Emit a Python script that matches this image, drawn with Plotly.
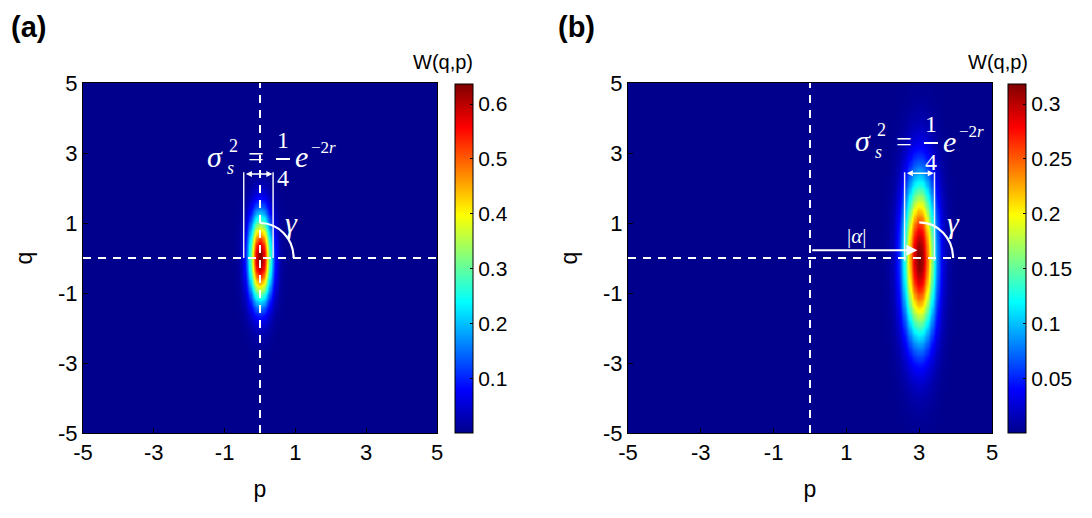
import numpy as np
import plotly.graph_objects as go

W, H = 1092, 518

# ---- data ----
axis_ticks = [-5, -3, -1, 1, 3, 5]
axis_ticktext = ['-5', '-3', '-1', '1', '3', '5']
grid = np.linspace(-5, 5, 301)

# panel (a): squeezed vacuum
a_center = (0.0, 0.0)      # (p, q)
a_sigma = (0.22, 0.85)     # (sigma_p, sigma_q)
a_peak = 0.6366
a_cbticks = [0.1, 0.2, 0.3, 0.4, 0.5, 0.6]

# panel (b): displaced squeezed state
b_center = (3.0, 0.0)
b_sigma = (0.30, 1.55)
b_peak = 0.3183
b_cbticks = [0.05, 0.1, 0.15, 0.2, 0.25, 0.3]


def wigner(center, sigma, peak):
    P, Q = np.meshgrid(grid, grid)
    return peak * np.exp(-((P - center[0]) ** 2) / (2 * sigma[0] ** 2)
                         - ((Q - center[1]) ** 2) / (2 * sigma[1] ** 2))


jet = [[0.0, 'rgb(0,0,140)'], [0.125, 'rgb(0,0,255)'], [0.375, 'rgb(0,255,255)'],
       [0.625, 'rgb(255,255,0)'], [0.875, 'rgb(255,0,0)'], [1.0, 'rgb(128,0,0)']]

FONT = "Liberation Sans, Arial, sans-serif"
SERIF = "Liberation Serif, Times New Roman, DejaVu Serif, serif"


def px(x, y):
    return x / W, 1 - y / H


# domains
ax_a = (83 / W, 437 / W)
ax_b = (628 / W, 992 / W)
ydom = (1 - 433 / H, 1 - 83 / H)

fig = go.Figure()

for k, (cen, sig, pk, ticks, xa, ya, cbx) in enumerate([
        (a_center, a_sigma, a_peak, a_cbticks, 'x', 'y', 455 / W),
        (b_center, b_sigma, b_peak, b_cbticks, 'x2', 'y2', 1008 / W)]):
    fig.add_trace(go.Heatmap(
        x=grid, y=grid, z=wigner(cen, sig, pk), zmin=0, zmax=pk,
        colorscale=jet, zsmooth='best', xaxis=xa, yaxis=ya,
        colorbar=dict(x=cbx, xanchor='left', y=ydom[0], yanchor='bottom',
                      len=(432 - 83) / H, lenmode='fraction', thickness=18,
                      thicknessmode='pixels', outlinecolor='black', outlinewidth=1,
                      tickvals=ticks, ticks='inside', ticklen=3, tickcolor='black',
                      tickfont=dict(family=FONT, size=21, color='black'),
                      xpad=0, ypad=0),
        hoverinfo='skip'))

axcommon = dict(range=[-5, 5], tickvals=axis_ticks, ticktext=axis_ticktext,
                ticks='inside', ticklen=5, automargin=False,
                tickcolor='black', showline=True, linecolor='black', linewidth=1,
                mirror=True, showgrid=False, zeroline=False,
                tickfont=dict(family=FONT, size=22, color='black'))

tfont = dict(family=FONT, size=23, color='black')
fig.update_layout(
    width=W, height=H, margin=dict(l=0, r=0, t=0, b=0, autoexpand=False),
    paper_bgcolor='white', plot_bgcolor='white', showlegend=False,
    xaxis=dict(domain=ax_a, anchor='y', **axcommon, title=dict(text='p', font=tfont, standoff=16)),
    yaxis=dict(domain=ydom, anchor='x', **axcommon, title=dict(text='q', font=tfont, standoff=18)),
    xaxis2=dict(domain=ax_b, anchor='y2', **axcommon, title=dict(text='p', font=tfont, standoff=16)),
    yaxis2=dict(domain=ydom, anchor='x2', **axcommon, title=dict(text='q', font=tfont, standoff=18)),
)

shapes = []
annos = []
WHITE = 'white'
LIGHT = 'rgb(235,235,245)'

for (xr, yr) in [('x', 'y'), ('x2', 'y2')]:
    # dashed cross at origin
    shapes.append(dict(type='line', xref=xr, yref=yr, x0=0, x1=0, y0=-5, y1=5,
                       line=dict(color=WHITE, width=2, dash='8px,7px')))
    shapes.append(dict(type='line', xref=xr, yref=yr, x0=-5, x1=5, y0=0, y1=0,
                       line=dict(color=WHITE, width=2, dash='8px,7px')))

# width lines and double arrows
a_lines = (-0.46, 0.37)
b_lines = (2.60, 3.42)
for (xr, yr, lines, ytop, ybot, arrow_q) in [('x', 'y', a_lines, 2.45, 0.0, 2.4),
                                              ('x2', 'y2', b_lines, 2.45, -0.08, 2.42)]:
    for xl in lines:
        shapes.append(dict(type='line', xref=xr, yref=yr, x0=xl, x1=xl, y0=ybot, y1=ytop,
                           line=dict(color=LIGHT, width=1.5)))
    annos.append(dict(xref=xr, yref=yr, axref=xr, ayref=yr, x=lines[1] - 0.02, y=arrow_q,
                      ax=lines[0] + 0.02, ay=arrow_q, text='', showarrow=True,
                      arrowhead=2, startarrowhead=2, arrowside='end+start', arrowsize=0.8,
                      startarrowsize=0.8, arrowwidth=1.5, arrowcolor=WHITE, standoff=0,
                      startstandoff=0))

# gamma arcs (quarter ellipse via cubic Bezier)
kk = 0.5523
for (xr, yr, cx, rx, ry) in [('x', 'y', a_center[0], 0.95, 1.0), ('x2', 'y2', b_center[0], 0.93, 1.02)]:
    path = (f"M {cx},{ry} C {cx + kk * rx},{ry} {cx + rx},{kk * ry} {cx + rx},0")
    shapes.append(dict(type='path', xref=xr, yref=yr, path=path,
                       line=dict(color=WHITE, width=2.2)))

# |alpha| arrow panel b
alpha_q = 0.22
annos.append(dict(xref='x2', yref='y2', axref='x2', ayref='y2', x=b_center[0] - 0.05, y=alpha_q,
                  ax=0.02, ay=alpha_q, text='', showarrow=True, arrowhead=2, arrowsize=1.1,
                  arrowwidth=2, arrowcolor=WHITE, standoff=0))


def txt(x, y, s, size, italic=False, family=SERIF, color=WHITE, bold=False, xanchor='center'):
    xx, yy = px(x, y)
    if italic:
        s = f"<i>{s}</i>"
    if bold:
        s = f"<b>{s}</b>"
    annos.append(dict(xref='paper', yref='paper', x=xx, y=yy, text=s, showarrow=False,
                      xanchor=xanchor, yanchor='middle',
                      font=dict(family=family, size=size, color=color)))


# gamma labels
txt(291, 222, 'γ', 30, italic=True)
txt(953, 222, 'γ', 30, italic=True)
# |alpha|
txt(856, 236, '|<i>α</i>|', 21)


def formula(ox, oy):
    # ox, oy: pixel position of the sigma glyph centre
    txt(ox, oy, 'σ', 30, italic=True)
    txt(ox + 18, oy - 10, '2', 18)
    txt(ox + 15, oy + 12, 's', 18, italic=True)
    txt(ox + 41, oy + 1, '=', 28)
    txt(ox + 68, oy - 16, '1', 24)
    txt(ox + 68, oy + 22, '4', 24)
    bx0, by = px(ox + 61, oy + 3)
    bx1, _ = px(ox + 75, oy + 3)
    shapes.append(dict(type='line', xref='paper', yref='paper', x0=bx0, x1=bx1, y0=by, y1=by,
                       line=dict(color=WHITE, width=2)))
    txt(ox + 86, oy + 1, 'e', 30, italic=True)
    txt(ox + 94, oy - 9, '−2<i>r</i>', 17, xanchor='left')


formula(215, 156)
formula(863, 140)

# panel labels and colorbar titles
txt(28, 27, '(a)', 29, family=FONT, color='black', bold=True)
txt(576, 27, '(b)', 29, family=FONT, color='black', bold=True)
txt(443, 62, 'W(q,p)', 20, family=FONT, color='black')
txt(998, 62, 'W(q,p)', 20, family=FONT, color='black')

fig.update_layout(shapes=shapes, annotations=annos)
fig.write_html("out.html")
